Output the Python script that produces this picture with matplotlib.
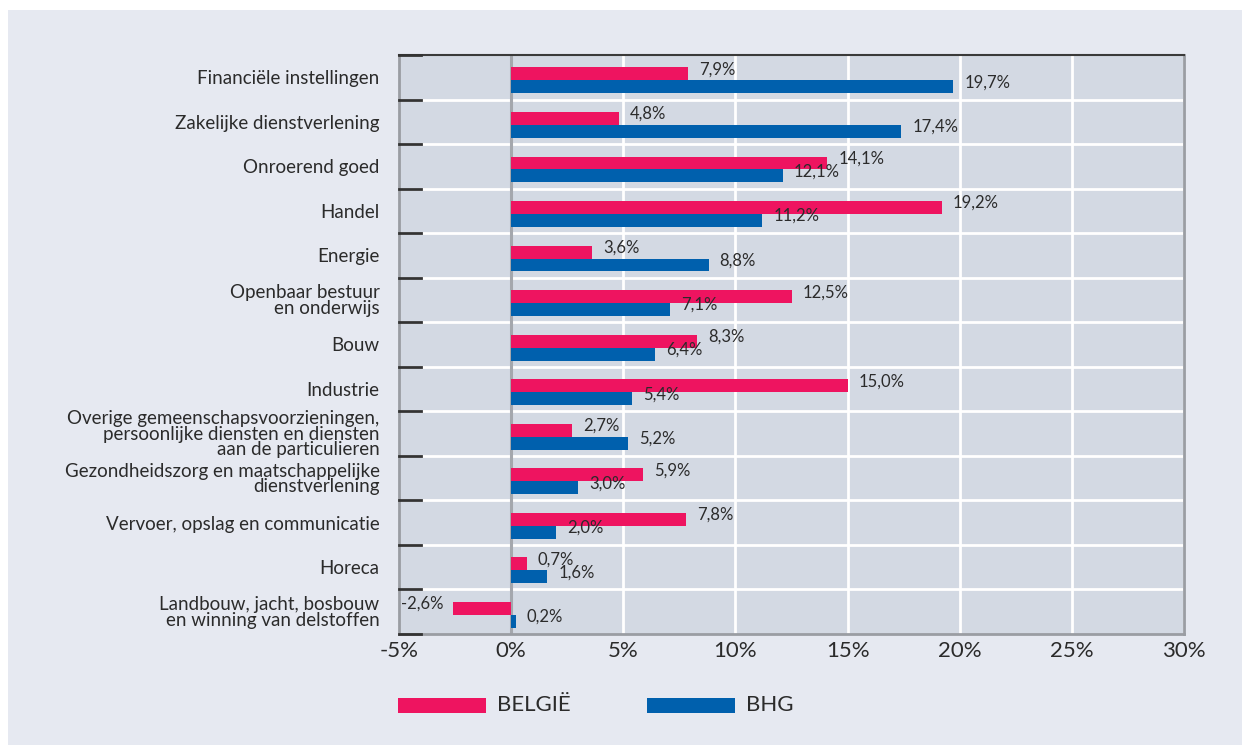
import numpy as np
import matplotlib.pyplot as plt
from matplotlib.patches import Rectangle

categories = [
    "Financiële instellingen",
    "Zakelijke dienstverlening",
    "Onroerend goed",
    "Handel",
    "Energie",
    "Openbaar bestuur\nen onderwijs",
    "Bouw",
    "Industrie",
    "Overige gemeenschapsvoorzieningen,\npersoonlijke diensten en diensten\naan de particulieren",
    "Gezondheidszorg en maatschappelijke\ndienstverlening",
    "Vervoer, opslag en communicatie",
    "Horeca",
    "Landbouw, jacht, bosbouw\nen winning van delstoffen",
]
belgie = [7.9, 4.8, 14.1, 19.2, 3.6, 12.5, 8.3, 15.0, 2.7, 5.9, 7.8, 0.7, -2.6]
bhg = [19.7, 17.4, 12.1, 11.2, 8.8, 7.1, 6.4, 5.4, 5.2, 3.0, 2.0, 1.6, 0.2]
xticks = [-5, 0, 5, 10, 15, 20, 25, 30]

pink = "#ee1460"
blue = "#0060ad"
bg = "#e6e9f1"
panel = "#d3d9e3"
txt = "#2b2b2b"

plt.rcParams['font.family'] = ['Lato', 'DejaVu Sans']

fig = plt.figure(figsize=(12.42, 7.45), dpi=100)
fig.patch.set_facecolor("white")
fig.patches.append(Rectangle((8 / 1242, 0.0), 1 - 8 / 1242, 1 - 10 / 745,
                             transform=fig.transFigure, facecolor=bg,
                             edgecolor="none", zorder=-10))
ax = fig.add_axes([399 / 1242, 1 - 634 / 745, (1184 - 399) / 1242, (634 - 55) / 745])
ax.set_facecolor(panel)

n = len(categories)
y = np.arange(n)
h = 0.29
off = 0.07  # bar pair sits a bit below the band centre
ax.barh(y - h / 2 + off, belgie, height=h, color=pink, zorder=3)
ax.barh(y + h / 2 + off, bhg, height=h, color=blue, zorder=3)

def fmt(v):
    return ("%.1f%%" % v).replace(".", ",")

for i in range(n):
    for v, yy in ((belgie[i], y[i] - h / 2 + off), (bhg[i], y[i] + h / 2 + off)):
        if v < 0:
            ax.annotate(fmt(v), (v, yy - 0.1), xytext=(-7, 0), textcoords="offset points",
                        ha="right", va="center", fontsize=12, color=txt, zorder=4)
        else:
            ax.annotate(fmt(v), (v, yy - 0.1), xytext=(8, 0), textcoords="offset points",
                        ha="left", va="center", fontsize=12, color=txt, zorder=4)

ax.set_xlim(-5, 30)
ax.set_ylim(n - 0.5, -0.5)
ax.set_xticks(xticks)
ax.set_xticklabels(["%d%%" % t for t in xticks], fontsize=16, color=txt)
ax.tick_params(axis="x", length=0, pad=5)

ax.set_yticks(y)
ax.set_yticklabels(categories, fontsize=13.5, color=txt, linespacing=0.88)
ax.tick_params(axis="y", length=0, pad=14)

for t in xticks[1:]:
    ax.axvline(t, color="white", lw=2, zorder=1)
ax.axvline(0, color="#a4a7ad", lw=2.2, zorder=2)
for b in np.arange(n - 1) + 0.5:
    ax.axhline(b, color="white", lw=2, zorder=1)
for b in np.arange(n + 1) - 0.5:
    ax.plot([-5, -4], [b, b], color="#333333", lw=2, zorder=5, clip_on=False)

ax.spines["top"].set_color("#3a3a3a")
ax.spines["top"].set_linewidth(1.5)
for s in ("left", "right", "bottom"):
    ax.spines[s].set_color("#9a9da3")
    ax.spines[s].set_linewidth(2)

# legend
fig.patches.append(Rectangle((398 / 1242, 1 - 713 / 745), 88 / 1242, 15 / 745,
                             transform=fig.transFigure, facecolor=pink, edgecolor="none"))
fig.text(497 / 1242, 1 - 705 / 745, "BELGIË", fontsize=16, color=txt, va="center")
fig.patches.append(Rectangle((647 / 1242, 1 - 713 / 745), 88 / 1242, 15 / 745,
                             transform=fig.transFigure, facecolor=blue, edgecolor="none"))
fig.text(746 / 1242, 1 - 705 / 745, "BHG", fontsize=16, color=txt, va="center")

fig.savefig("out.png", dpi=100, facecolor=fig.get_facecolor())
